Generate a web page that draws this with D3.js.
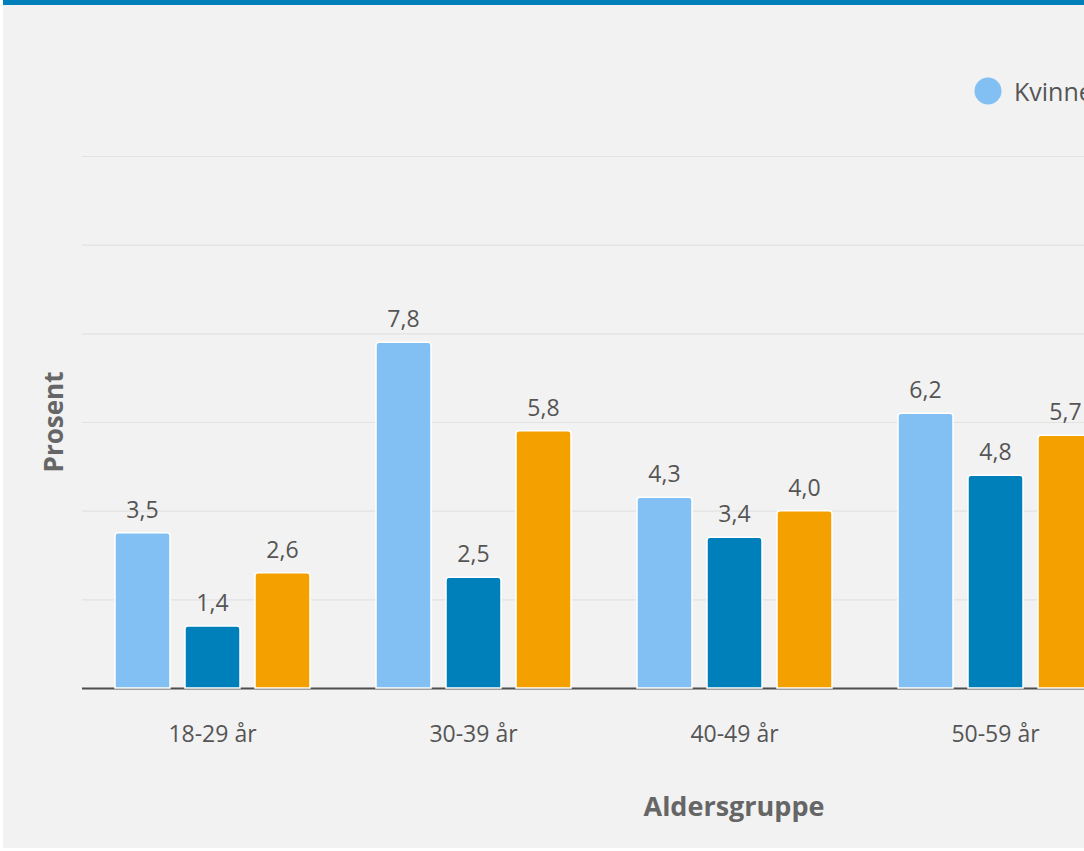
<!DOCTYPE html>
<html><head><meta charset="utf-8">
<script src="https://cdn.jsdelivr.net/npm/d3@7"></script>
<style>
html,body{margin:0;padding:0;background:#fff;overflow:hidden}
svg{display:block}
text{font-family:"Open Sans",Lato,sans-serif}
</style></head>
<body>
<script>
const categories = ["18-29 år","30-39 år","40-49 år","50-59 år"];
const seriesNames = ["Kvinner","Menn","Totalt"];
const kvinner = [3.5, 7.8, 4.3, 6.2];
const menn = [1.4, 2.5, 3.4, 4.8];
const totalt = [2.6, 5.8, 4.0, 5.7];
const yTicks = [0,2,4,6,8,10,12];
const colors = ["#82c0f3","#0080bb","#f4a100"];

const seriesValues = [kvinner, menn, totalt];
const W = 1084, H = 851;
const svg = d3.select("body").append("svg").attr("width", W).attr("height", H);
svg.append("rect").attr("x",3).attr("y",0).attr("width",W-3).attr("height",H-3).attr("fill","#f2f2f2");
svg.append("rect").attr("x",3).attr("y",0).attr("width",W-3).attr("height",5).attr("fill","#0080bb");

const x0 = d3.scaleBand().domain(categories).range([82, 82 + 261*categories.length]).padding(0);
const x1 = d3.scaleBand().domain(seriesNames).range([0, x0.bandwidth()]).paddingInner(15/70).paddingOuter(33/70);
const y = d3.scaleLinear().domain([0,12]).range([688,156]);

// gridlines
const grid = svg.append("g").call(d3.axisLeft(y).tickValues(yTicks).tickSize(-(W-82)).tickFormat(""))
  .attr("transform","translate(82,0)");
grid.select(".domain").remove();
grid.selectAll(".tick line").attr("stroke","#e2e2e2").attr("stroke-width",1.2);
grid.selectAll(".tick").filter(d=>d===0).remove();

// baseline
svg.append("line").attr("x1",82).attr("x2",W).attr("y1",y(0)+0.5).attr("y2",y(0)+0.5)
  .attr("stroke","#4d4d4d").attr("stroke-width",2);

// bars
const rows = [];
categories.forEach((c,i)=>seriesNames.forEach((s,j)=>rows.push({c, s, v: seriesValues[j][i], j})));
const g = svg.append("g");
g.selectAll("path.bar").data(rows).enter().append("path").attr("class","bar")
  .attr("d", d=>{
    const bx = x0(d.c)+x1(d.s), bw = x1.bandwidth(), by = y(d.v), bh = y(0)-y(d.v), r = 3;
    return `M${bx},${by+bh}V${by+r}Q${bx},${by} ${bx+r},${by}H${bx+bw-r}Q${bx+bw},${by} ${bx+bw},${by+r}V${by+bh}Z`;
  })
  .attr("fill", d=>colors[d.j]).attr("stroke","#fff").attr("stroke-width",1.5);

g.selectAll("text.val").data(rows).enter().append("text").attr("class","val")
  .attr("x", d=>x0(d.c)+x1(d.s)+x1.bandwidth()/2)
  .attr("y", d=>y(d.v)-15)
  .attr("text-anchor","middle").attr("font-size",23).attr("fill","#555")
  .text(d=>d3.format(".1f")(d.v).replace(".",","));

// x axis labels
const xa = svg.append("g").attr("transform",`translate(0,${y(0)})`)
  .call(d3.axisBottom(x0).tickSize(0).tickPadding(38));
xa.select(".domain").remove();
xa.selectAll("text").attr("font-size",23).attr("fill","#555").attr("font-family","'Open Sans',Lato,sans-serif");

// axis titles
svg.append("text").attr("x",734).attr("y",816).attr("text-anchor","middle")
  .attr("font-size",27).attr("font-weight","bold").attr("fill","#666").text("Aldersgruppe");
svg.append("text").attr("transform","translate(63,422) rotate(-90)").attr("text-anchor","middle")
  .attr("font-size",26).attr("font-weight","bold").attr("fill","#666").text("Prosent");

// legend
const lg = svg.append("g");
seriesNames.forEach((s,i)=>{
  const lx = 988 + i*170;
  lg.append("circle").attr("cx",lx).attr("cy",91).attr("r",13.5).attr("fill",colors[i]);
  lg.append("text").attr("x",lx+26).attr("y",101).attr("font-size",25).attr("fill","#555").text(s);
});
</script>
</body></html>
